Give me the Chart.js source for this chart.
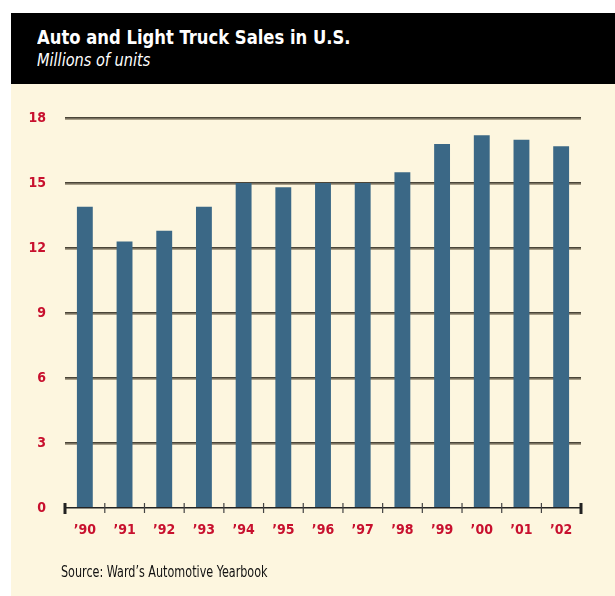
<!DOCTYPE html>
<html>
<head>
<meta charset="utf-8">
<script src="https://cdn.jsdelivr.net/npm/chart.js@4.4.1/dist/chart.umd.min.js"></script>
<style>
  body { margin: 0; background: #fff; }
  #panel { position: absolute; left: 11px; top: 13px; width: 604px; height: 583px; background: #fdf6df; }
  #header { position: absolute; left: 0; top: 0; width: 604px; height: 71px; background: #000; color: #fff;
            font-family: 'Liberation Sans Narrow', 'DejaVu Sans Condensed', sans-serif; }
  #title { position: absolute; left: 26px; top: 13px; font-size: 19px; font-weight: bold;
           transform: scaleX(0.96); transform-origin: left top; }
  #subtitle { position: absolute; left: 26px; top: 37px; font-size: 17px; font-style: italic;
              transform: scaleX(0.95); transform-origin: left top; }
  #chartBox { position: absolute; left: 0; top: 71px; width: 604px; height: 512px; }
  #source { position: absolute; left: 50px; top: 550px; font-size: 15px; color: #111; white-space: nowrap;
            font-family: 'Liberation Sans Narrow', 'DejaVu Sans Condensed', sans-serif;
            transform: scaleX(0.83); transform-origin: left top; }
</style>
</head>
<body>
<div id="panel">
  <div id="header">
    <div id="title">Auto and Light Truck Sales in U.S.</div>
    <div id="subtitle">Millions of units</div>
  </div>
  <div id="chartBox"><canvas id="salesChart"></canvas></div>
  <div id="source">Source: Ward’s Automotive Yearbook</div>
</div>
<script>
// data
const years = ['’90', '’91', '’92', '’93', '’94', '’95', '’96', '’97', '’98', '’99', '’00', '’01', '’02'];
const sales = [13.9, 12.3, 12.8, 13.9, 15.0, 14.8, 15.0, 15.0, 15.5, 16.8, 17.2, 17.0, 16.7];
const yTicks = [0, 3, 6, 9, 12, 15, 18];

const condensed = "'Liberation Sans Narrow', 'DejaVu Sans Condensed', sans-serif";

// gridlines with a light shadow, plus the zero axis with its ticks
const axisPlugin = {
    id: 'axisPlugin',
    beforeDatasetsDraw(chart) {
        const ctx = chart.ctx;
        const area = chart.chartArea;
        const y = chart.scales.y;
        ctx.save();
        yTicks.forEach(v => {
            if (v === 0) return;
            const py = Math.round(y.getPixelForValue(v));
            ctx.fillStyle = '#a89f88';
            ctx.fillRect(area.left, py, area.right - area.left, 2);
            ctx.fillStyle = '#4a4538';
            ctx.fillRect(area.left, py - 1, area.right - area.left, 1.5);
        });
        ctx.restore();
    },
    afterDatasetsDraw(chart) {
        const ctx = chart.ctx;
        const area = chart.chartArea;
        const y0 = Math.round(chart.scales.y.getPixelForValue(0));
        const step = (area.right - area.left) / years.length;
        ctx.save();
        ctx.fillStyle = '#222';
        ctx.fillRect(area.left, y0 - 1, area.right - area.left, 1.5);
        for (let i = 0; i <= years.length; i++) {
            const px = area.left + i * step;
            if (i === 0 || i === years.length) {
                ctx.fillRect(px - 1.5, y0 - 5, 3, 11);
            } else {
                ctx.fillStyle = '#444';
                ctx.fillRect(px - 0.5, y0 - 5, 1.2, 10);
                ctx.fillStyle = '#222';
            }
        }
        ctx.restore();
    }
};

const ctx = document.getElementById('salesChart').getContext('2d');
new Chart(ctx, {
    type: 'bar',
    data: {
        labels: years,
        datasets: [{
            data: sales,
            backgroundColor: '#3b6886',
            barPercentage: 0.4,
            categoryPercentage: 1.0
        }]
    },
    options: {
        responsive: true,
        maintainAspectRatio: false,
        animation: false,
        layout: { padding: { top: 34, right: 34, left: 0, bottom: 0 } },
        plugins: {
            legend: { display: false },
            tooltip: { enabled: false }
        },
        scales: {
            x: {
                grid: { display: false, drawTicks: false },
                border: { display: false },
                ticks: {
                    color: '#c8102e',
                    padding: 14,
                    font: { family: condensed, size: 14, weight: 'bold' }
                },
                afterFit(scale) { scale.height = 88; }
            },
            y: {
                min: 0,
                max: 18,
                grid: { display: false, drawTicks: false },
                border: { display: false },
                ticks: {
                    stepSize: 3,
                    color: '#c8102e',
                    padding: 19,
                    font: { family: condensed, size: 14, weight: 'bold' }
                },
                afterFit(scale) { scale.width = 54; }
            }
        }
    },
    plugins: [axisPlugin]
});
</script>
</body>
</html>
